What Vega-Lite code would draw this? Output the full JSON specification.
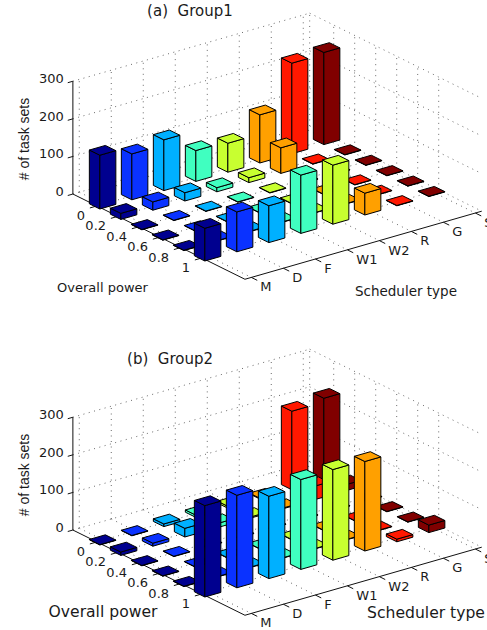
{"$schema":"https://vega.github.io/schema/vega-lite/v6.json","width":487,"height":630,"padding":0,"autosize":{"type":"none"},"background":"white","view":{"stroke":null},
"datasets":{
"bars":[
{"group":"a","scheduler":"S","power":0,"count":245},{"group":"a","scheduler":"G","power":0,"count":241},{"group":"a","scheduler":"R","power":0,"count":128},{"group":"a","scheduler":"W2","power":0,"count":77},{"group":"a","scheduler":"W1","power":0,"count":82},{"group":"a","scheduler":"F","power":0,"count":135},{"group":"a","scheduler":"D","power":0,"count":122},{"group":"a","scheduler":"M","power":0,"count":143},
{"group":"a","scheduler":"S","power":0.2,"count":1},{"group":"a","scheduler":"G","power":0.2,"count":1},{"group":"a","scheduler":"R","power":0.2,"count":68},{"group":"a","scheduler":"W2","power":0.2,"count":13},{"group":"a","scheduler":"W1","power":0.2,"count":11},{"group":"a","scheduler":"F","power":0.2,"count":22},{"group":"a","scheduler":"D","power":0.2,"count":22},{"group":"a","scheduler":"M","power":0.2,"count":16},
{"group":"a","scheduler":"S","power":0.4,"count":1},{"group":"a","scheduler":"G","power":0.4,"count":1},{"group":"a","scheduler":"R","power":0.4,"count":1},{"group":"a","scheduler":"W2","power":0.4,"count":1},{"group":"a","scheduler":"W1","power":0.4,"count":1},{"group":"a","scheduler":"F","power":0.4,"count":1},{"group":"a","scheduler":"D","power":0.4,"count":1},{"group":"a","scheduler":"M","power":0.4,"count":1},
{"group":"a","scheduler":"S","power":0.6,"count":1},{"group":"a","scheduler":"G","power":0.6,"count":1},{"group":"a","scheduler":"R","power":0.6,"count":1},{"group":"a","scheduler":"W2","power":0.6,"count":1},{"group":"a","scheduler":"W1","power":0.6,"count":1},{"group":"a","scheduler":"F","power":0.6,"count":1},{"group":"a","scheduler":"D","power":0.6,"count":1},{"group":"a","scheduler":"M","power":0.6,"count":1},
{"group":"a","scheduler":"S","power":0.8,"count":1},{"group":"a","scheduler":"G","power":0.8,"count":1},{"group":"a","scheduler":"R","power":0.8,"count":1},{"group":"a","scheduler":"W2","power":0.8,"count":1},{"group":"a","scheduler":"W1","power":0.8,"count":1},{"group":"a","scheduler":"F","power":0.8,"count":1},{"group":"a","scheduler":"D","power":0.8,"count":1},{"group":"a","scheduler":"M","power":0.8,"count":1},
{"group":"a","scheduler":"S","power":1,"count":1},{"group":"a","scheduler":"G","power":1,"count":1},{"group":"a","scheduler":"R","power":1,"count":58},{"group":"a","scheduler":"W2","power":1,"count":157},{"group":"a","scheduler":"W1","power":1,"count":155},{"group":"a","scheduler":"F","power":1,"count":98},{"group":"a","scheduler":"D","power":1,"count":106},{"group":"a","scheduler":"M","power":1,"count":87},
{"group":"b","scheduler":"S","power":0,"count":219},{"group":"b","scheduler":"G","power":0,"count":209},{"group":"b","scheduler":"R","power":0,"count":2},{"group":"b","scheduler":"W2","power":0,"count":5},{"group":"b","scheduler":"W1","power":0,"count":6},{"group":"b","scheduler":"F","power":0,"count":7},{"group":"b","scheduler":"D","power":0,"count":1},{"group":"b","scheduler":"M","power":0,"count":1},
{"group":"b","scheduler":"S","power":0.2,"count":16},{"group":"b","scheduler":"G","power":0.2,"count":36},{"group":"b","scheduler":"R","power":0.2,"count":2},{"group":"b","scheduler":"W2","power":0.2,"count":3},{"group":"b","scheduler":"W1","power":0.2,"count":11},{"group":"b","scheduler":"F","power":0.2,"count":23},{"group":"b","scheduler":"D","power":0.2,"count":8},{"group":"b","scheduler":"M","power":0.2,"count":9},
{"group":"b","scheduler":"S","power":0.4,"count":1},{"group":"b","scheduler":"G","power":0.4,"count":1},{"group":"b","scheduler":"R","power":0.4,"count":1},{"group":"b","scheduler":"W2","power":0.4,"count":1},{"group":"b","scheduler":"W1","power":0.4,"count":1},{"group":"b","scheduler":"F","power":0.4,"count":1},{"group":"b","scheduler":"D","power":0.4,"count":1},{"group":"b","scheduler":"M","power":0.4,"count":1},
{"group":"b","scheduler":"S","power":0.6,"count":1},{"group":"b","scheduler":"G","power":0.6,"count":1},{"group":"b","scheduler":"R","power":0.6,"count":1},{"group":"b","scheduler":"W2","power":0.6,"count":1},{"group":"b","scheduler":"W1","power":0.6,"count":1},{"group":"b","scheduler":"F","power":0.6,"count":1},{"group":"b","scheduler":"D","power":0.6,"count":1},{"group":"b","scheduler":"M","power":0.6,"count":1},
{"group":"b","scheduler":"S","power":0.8,"count":1},{"group":"b","scheduler":"G","power":0.8,"count":1},{"group":"b","scheduler":"R","power":0.8,"count":1},{"group":"b","scheduler":"W2","power":0.8,"count":1},{"group":"b","scheduler":"W1","power":0.8,"count":1},{"group":"b","scheduler":"F","power":0.8,"count":1},{"group":"b","scheduler":"D","power":0.8,"count":1},{"group":"b","scheduler":"M","power":0.8,"count":1},
{"group":"b","scheduler":"S","power":1,"count":20},{"group":"b","scheduler":"G","power":1,"count":7},{"group":"b","scheduler":"R","power":1,"count":238},{"group":"b","scheduler":"W2","power":1,"count":241},{"group":"b","scheduler":"W1","power":1,"count":239},{"group":"b","scheduler":"F","power":1,"count":219},{"group":"b","scheduler":"D","power":1,"count":246},{"group":"b","scheduler":"M","power":1,"count":243}
],
"frame":[
{"kind":"floorS","t":0},{"kind":"floorS","t":1},{"kind":"floorS","t":2},{"kind":"floorS","t":3},{"kind":"floorS","t":4},{"kind":"floorS","t":5},{"kind":"floorS","t":6},{"kind":"floorS","t":7},
{"kind":"floorP","t":0},{"kind":"floorP","t":1},{"kind":"floorP","t":2},{"kind":"floorP","t":3},{"kind":"floorP","t":4},{"kind":"floorP","t":5},
{"kind":"wallLZ","t":0},{"kind":"wallLZ","t":1},{"kind":"wallLZ","t":2},{"kind":"wallLZ","t":3},{"kind":"wallLZ","t":4},{"kind":"wallLZ","t":5},{"kind":"wallLZ","t":6},{"kind":"wallLZ","t":7},{"kind":"wallLZ","t":7.2},
{"kind":"wallLH","t":0},{"kind":"wallLH","t":100},{"kind":"wallLH","t":200},{"kind":"wallLH","t":300},
{"kind":"wallRZ","t":0},{"kind":"wallRZ","t":1},{"kind":"wallRZ","t":2},{"kind":"wallRZ","t":3},{"kind":"wallRZ","t":4},{"kind":"wallRZ","t":5},
{"kind":"wallRH","t":0},{"kind":"wallRH","t":100},{"kind":"wallRH","t":200},{"kind":"wallRH","t":300},
{"kind":"axisZ","t":0},{"kind":"axisP","t":0},{"kind":"axisS","t":0},
{"kind":"tickZ","t":0},{"kind":"tickZ","t":100},{"kind":"tickZ","t":200},{"kind":"tickZ","t":300},
{"kind":"tickP","t":0},{"kind":"tickP","t":1},{"kind":"tickP","t":2},{"kind":"tickP","t":3},{"kind":"tickP","t":4},{"kind":"tickP","t":5},
{"kind":"tickS","t":0},{"kind":"tickS","t":1},{"kind":"tickS","t":2},{"kind":"tickS","t":3},{"kind":"tickS","t":4},{"kind":"tickS","t":5},{"kind":"tickS","t":6},{"kind":"tickS","t":7}
],
"panelLabels":[
{"group":"a","role":"title","text":"(a)  Group1"},{"group":"b","role":"title","text":"(b)  Group2"},
{"group":"a","role":"power","text":"Overall power"},{"group":"b","role":"power","text":"Overall power"},
{"group":"a","role":"sched","text":"Scheduler type"},{"group":"b","role":"sched","text":"Scheduler type"}
],
"ztitle":[{"group":"a","text":"# of task sets"},{"group":"b","text":"# of task sets"}],
"zticks":[{"value":0},{"value":100},{"value":200},{"value":300}],
"pticks":[{"label":"0","power":0},{"label":"0.2","power":0.2},{"label":"0.4","power":0.4},{"label":"0.6","power":0.6},{"label":"0.8","power":0.8},{"label":"1","power":1}],
"sticks":[{"scheduler":"M"},{"scheduler":"D"},{"scheduler":"F"},{"scheduler":"W1"},{"scheduler":"W2"},{"scheduler":"R"},{"scheduler":"G"},{"scheduler":"S"}]
},
"encoding":{"x":{"field":"px","type":"quantitative","axis":null,"scale":{"domain":[0,487],"nice":false,"zero":false}},"y":{"field":"py","type":"quantitative","axis":null,"scale":{"domain":[630,0],"nice":false,"zero":false}}},
"layer":[
{"data":{"name":"frame"},"transform":[
{"filter":"indexof(['floorS','floorP','wallLZ','wallLH','wallRZ','wallRH'],datum.kind)>=0"},
{"calculate":"['a','b']","as":"group"},{"flatten":["group"]},
{"calculate":"(datum.group=='b'?336:0)","as":"oy"},
{"calculate":"(datum.kind=='floorS'||datum.kind=='wallLZ')?datum.t:((datum.kind=='wallRZ'||datum.kind=='wallRH')?7.2:-0.2)","as":"s1"},
{"calculate":"(datum.kind=='floorS'||datum.kind=='wallLZ')?datum.t:((datum.kind=='wallRZ'||datum.kind=='wallRH'||datum.kind=='floorP'||datum.kind=='wallLH')?7.2:-0.2)","as":"s2"},
{"calculate":"(datum.kind=='floorP'||datum.kind=='wallRZ')?datum.t:-1.144","as":"p1"},
{"calculate":"(datum.kind=='floorP'||datum.kind=='wallRZ')?datum.t:((datum.kind=='floorS'||datum.kind=='wallRH')?7.05:-1.144)","as":"p2"},
{"calculate":"(datum.kind=='wallLH'||datum.kind=='wallRH')?datum.t:0","as":"z1"},
{"calculate":"(datum.kind=='wallLH'||datum.kind=='wallRH')?datum.t:((datum.kind=='wallLZ'||datum.kind=='wallRZ')?300:0)","as":"z2"},
{"calculate":"103.3+32*datum.s1+21*datum.p1","as":"px"},
{"calculate":"204.1-9.2*datum.s1+10.4*datum.p1-0.376*datum.z1+datum.oy","as":"py"},
{"calculate":"103.3+32*datum.s2+21*datum.p2","as":"qx"},
{"calculate":"204.1-9.2*datum.s2+10.4*datum.p2-0.376*datum.z2+datum.oy","as":"qy"}],
"mark":{"type":"rule","stroke":"#444444","strokeWidth":0.8,"strokeDash":[1,4.5]},
"encoding":{"x2":{"field":"qx"},"y2":{"field":"qy"}}},
{"data":{"name":"frame"},"transform":[
{"filter":"indexof(['axisZ','axisP','axisS','tickZ','tickP','tickS'],datum.kind)>=0"},
{"calculate":"['a','b']","as":"group"},{"flatten":["group"]},
{"calculate":"(datum.group=='b'?336:0)","as":"oy"},
{"calculate":"datum.kind=='tickS'?datum.t:-0.2","as":"s1"},
{"calculate":"datum.kind=='tickS'?datum.t:(datum.kind=='axisS'?7.2:(datum.kind=='tickZ'?-0.36:(datum.kind=='tickP'?-0.42:-0.2)))","as":"s2"},
{"calculate":"datum.kind=='tickP'?datum.t:((datum.kind=='axisS'||datum.kind=='tickS')?7.05:-1.144)","as":"p1"},
{"calculate":"datum.kind=='tickP'?datum.t:(datum.kind=='tickS'?7.33:((datum.kind=='axisP'||datum.kind=='axisS')?7.05:-1.144))","as":"p2"},
{"calculate":"datum.kind=='tickZ'?datum.t:0","as":"z1"},
{"calculate":"datum.kind=='tickZ'?datum.t:(datum.kind=='axisZ'?300:0)","as":"z2"},
{"calculate":"103.3+32*datum.s1+21*datum.p1","as":"px"},
{"calculate":"204.1-9.2*datum.s1+10.4*datum.p1-0.376*datum.z1+datum.oy","as":"py"},
{"calculate":"103.3+32*datum.s2+21*datum.p2","as":"qx"},
{"calculate":"204.1-9.2*datum.s2+10.4*datum.p2-0.376*datum.z2+datum.oy","as":"qy"}],
"mark":{"type":"rule","stroke":"#111111","strokeWidth":1},
"encoding":{"x2":{"field":"qx"},"y2":{"field":"qy"}}},
{"data":{"name":"bars"},"transform":[
{"calculate":"indexof(['M','D','F','W1','W2','R','G','S'],datum.scheduler)","as":"i"},
{"calculate":"round(datum.power*5)","as":"j"},
{"calculate":"[0,1,2]","as":"f"},{"flatten":["f"]},
{"calculate":"[0,1,2,3,4]","as":"v"},{"flatten":["v"]},
{"calculate":"datum.i+0.25*[[-1,-1,-1,-1,-1],[-1,1,1,-1,-1],[-1,-1,1,1,-1]][datum.f][datum.v]","as":"s"},
{"calculate":"datum.j+0.25*[[-1,1,1,-1,-1],[1,1,1,1,1],[-1,1,1,-1,-1]][datum.f][datum.v]","as":"p"},
{"calculate":"datum.count*[[0,0,1,1,0],[0,0,1,1,0],[1,1,1,1,1]][datum.f][datum.v]","as":"z"},
{"calculate":"102.6+32*datum.s+21*datum.p","as":"px"},
{"calculate":"204.1-9.2*datum.s+10.4*datum.p-0.376*datum.z+(datum.group=='b'?336:0)","as":"py"},
{"calculate":"'k'+datum.group+'_'+datum.j+'_'+datum.scheduler+'_'+datum.f","as":"key"}],
"mark":{"type":"line","stroke":"#000000","strokeWidth":1,"strokeJoin":"miter","fillOpacity":1},
"encoding":{"detail":{"field":"key"},"order":{"field":"v"},"fill":{"field":"scheduler","type":"nominal","legend":null,"scale":{"domain":["M","D","F","W1","W2","R","G","S"],"range":["#00008f","#0a32ff","#00b0ff","#40ffc0","#c8ff30","#ffa000","#ff1800","#800000"]}}}},
{"data":{"name":"zticks"},"transform":[
{"calculate":"['a','b']","as":"group"},{"flatten":["group"]},
{"calculate":"103.3+32*(-0.2)+21*(-1.144)","as":"px"},
{"calculate":"204.1+9.2*0.2-10.4*1.144-0.376*datum.value+(datum.group=='b'?336:0)","as":"py"}],
"mark":{"type":"text","font":"DejaVu Sans","fontSize":13,"align":"right","baseline":"middle","dx":-9,"dy":-2,"fill":"#1a1a1a"},
"encoding":{"text":{"field":"value","type":"nominal"}}},
{"data":{"name":"pticks"},"transform":[
{"calculate":"['a','b']","as":"group"},{"flatten":["group"]},
{"calculate":"103.3+32*(-0.57)+21*datum.power*5","as":"px"},
{"calculate":"204.1+9.2*0.57+10.4*datum.power*5+(datum.group=='b'?336:0)","as":"py"}],
"mark":{"type":"text","font":"DejaVu Sans","fontSize":13,"align":"right","baseline":"middle","dy":6.6,"fill":"#1a1a1a"},
"encoding":{"text":{"field":"label","type":"nominal"}}},
{"data":{"name":"sticks"},"transform":[
{"calculate":"['a','b']","as":"group"},{"flatten":["group"]},
{"calculate":"indexof(['M','D','F','W1','W2','R','G','S'],datum.scheduler)","as":"i"},
{"calculate":"103.3+32*datum.i+21*7.05","as":"px"},
{"calculate":"204.1-9.2*datum.i+10.4*7.05+(datum.group=='b'?336:0)","as":"py"}],
"mark":{"type":"text","font":"DejaVu Sans","fontSize":13,"align":"left","baseline":"middle","dx":9,"dy":10,"fill":"#1a1a1a"},
"encoding":{"text":{"field":"scheduler","type":"nominal"}}},
{"data":{"name":"panelLabels"},"transform":[
{"calculate":"replace(datum.text,'  ','\u00a0\u00a0')","as":"shown"},
{"calculate":"datum.role=='title'?(datum.group=='a'?9.42:8.55):(datum.role=='power'?(datum.group=='a'?-3.366:-2.877):(datum.group=='a'?2.475:3.47))","as":"s"},
{"calculate":"datum.role=='title'?(datum.group=='a'?-10.23:-9.85):(datum.role=='power'?(datum.group=='a'?5.09:4.369):(datum.group=='a'?10.64:10.08))","as":"p"},
{"calculate":"103.3+32*datum.s+21*datum.p","as":"px"},
{"calculate":"204.1-9.2*datum.s+10.4*datum.p+(datum.group=='b'?336:0)","as":"py"},
{"calculate":"datum.role=='title'?15:(datum.group=='a'?(datum.role=='power'?13:13.5):15.6)","as":"fs"}],
"mark":{"type":"text","font":"DejaVu Sans","align":"center","baseline":"middle","fill":"#1a1a1a"},
"encoding":{"text":{"field":"shown","type":"nominal"},"size":{"field":"fs","type":"quantitative","scale":null}}},
{"data":{"name":"ztitle"},"transform":[
{"calculate":"25","as":"px"},
{"calculate":"139+(datum.group=='b'?336:0)","as":"py"}],
"mark":{"type":"text","font":"Liberation Sans","fontSize":14,"align":"center","baseline":"middle","angle":270,"fill":"#1a1a1a"},
"encoding":{"text":{"field":"text","type":"nominal"}}}
]}
